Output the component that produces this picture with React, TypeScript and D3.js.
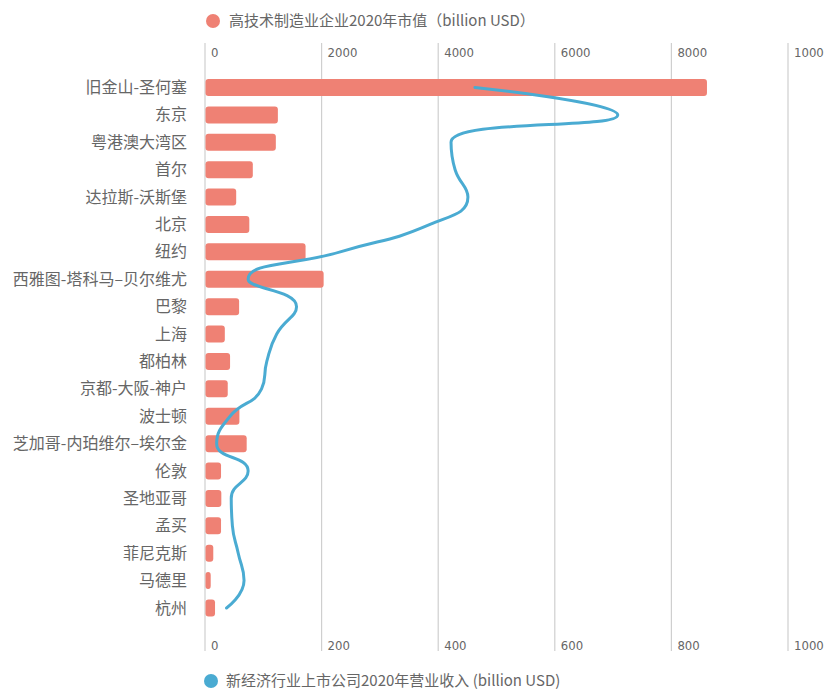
import React from "react";
import * as d3 from "d3";

const cities = [
  "旧金山-圣何塞", "东京", "粤港澳大湾区", "首尔", "达拉斯-沃斯堡", "北京", "纽约",
  "西雅图-塔科马–贝尔维尤", "巴黎", "上海", "都柏林", "京都-大阪-神户", "波士顿",
  "芝加哥-内珀维尔–埃尔金", "伦敦", "圣地亚哥", "孟买", "菲尼克斯", "马德里", "杭州",
];
// 高技术制造业企业2020年市值 (billion USD)
const marketValue = [
  8610, 1250, 1215, 820, 535, 760, 1725, 2035, 585, 340,
  430, 390, 590, 715, 275, 280, 275, 142, 98, 172,
];
// 新经济行业上市公司2020年营业收入 (billion USD)
const revenue = [
  463, 708, 422, 429, 451, 386, 232, 74, 157, 123,
  106, 97, 43, 20, 74, 45, 47, 57, 67, 37,
];
const topTicks = [0, 2000, 4000, 6000, 8000, 10000];
const bottomTicks = [0, 200, 400, 600, 800, 1000];
const legendTop = "高技术制造业企业2020年市值（billion USD）";
const legendBottom = "新经济行业上市公司2020年营业收入 (billion USD)";

const W = 824;
const H = 691;
const BAR_COLOR = "#ef8174";
const LINE_COLOR = "#4aabd2";
const GRID_COLOR = "#cfcfcf";
const TEXT_COLOR = "#666";
const CJK = "'Noto Sans CJK SC', 'Noto Sans', sans-serif";
const NUM = "'Liberation Sans Narrow', 'DejaVu Sans Condensed', 'Roboto', sans-serif";

// Smooth curve with per-point control points clamped to each segment's bounding box.
class ClampedSmooth {
  _ctx: any;
  _pts: [number, number][] = [];
  _smooth = 0.5;
  constructor(ctx: any) {
    this._ctx = ctx;
  }
  areaStart() {}
  areaEnd() {}
  lineStart() {
    this._pts = [];
  }
  point(x: number, y: number) {
    this._pts.push([+x, +y]);
  }
  lineEnd() {
    const p = this._pts;
    const s = this._smooth;
    const ctx = this._ctx;
    if (!p.length) return;
    ctx.moveTo(p[0][0], p[0][1]);
    let cpx0 = p[0][0];
    let cpy0 = p[0][1];
    for (let i = 1; i < p.length; i++) {
      const [prevX, prevY] = p[i - 1];
      const [x, y] = p[i];
      let cpx1: number, cpy1: number, nCpx0 = x, nCpy0 = y;
      if (i === p.length - 1) {
        cpx1 = x;
        cpy1 = y;
      } else {
        const [nextX, nextY] = p[i + 1];
        let vx = nextX - prevX;
        let vy = nextY - prevY;
        const lenPrev = Math.hypot(x - prevX, y - prevY);
        const lenNext = Math.hypot(nextX - x, nextY - y);
        const r = lenNext / (lenNext + lenPrev);
        nCpx0 = x + vx * s * r;
        nCpy0 = y + vy * s * r;
        nCpx0 = Math.min(nCpx0, Math.max(nextX, x));
        nCpy0 = Math.min(nCpy0, Math.max(nextY, y));
        nCpx0 = Math.max(nCpx0, Math.min(nextX, x));
        nCpy0 = Math.max(nCpy0, Math.min(nextY, y));
        vx = nCpx0 - x;
        vy = nCpy0 - y;
        cpx1 = x - (vx * lenPrev) / lenNext;
        cpy1 = y - (vy * lenPrev) / lenNext;
        cpx1 = Math.min(cpx1, Math.max(prevX, x));
        cpy1 = Math.min(cpy1, Math.max(prevY, y));
        cpx1 = Math.max(cpx1, Math.min(prevX, x));
        cpy1 = Math.max(cpy1, Math.min(prevY, y));
        vx = x - cpx1;
        vy = y - cpy1;
        nCpx0 = x + (vx * lenNext) / lenPrev;
        nCpy0 = y + (vy * lenNext) / lenPrev;
      }
      ctx.bezierCurveTo(cpx0, cpy0, cpx1, cpy1, x, y);
      cpx0 = nCpx0;
      cpy0 = nCpy0;
    }
  }
}

export default function App() {
  const xTop = d3.scaleLinear().domain([0, 10000]).range([205, 788]);
  const xBottom = d3.scaleLinear().domain([0, 1000]).range([205, 788]);
  const y = d3.scalePoint<string>().domain(cities).range([87.5, 608]);
  const barH = 17;
  const gridTop = 43;
  const gridBottom = 651;

  const line = d3
    .line<number>()
    .x((d) => xBottom(d))
    .y((_, i) => y(cities[i]) as number)
    .curve(((ctx: any) => new ClampedSmooth(ctx)) as any);

  return (
    <svg
      width={W}
      height={H}
      style={{ position: "absolute", left: 0, top: 0, background: "#fff" }}
    >
      {/* legend: market value */}
      <circle cx={213} cy={21} r={7} fill={BAR_COLOR} />
      <text x={229} y={21} dy="0.35em" fontFamily={CJK} fontSize={15} fill={TEXT_COLOR}>
        {legendTop}
      </text>

      {/* grid lines */}
      {topTicks.map((t) => (
        <line
          key={"g" + t}
          x1={xTop(t)}
          x2={xTop(t)}
          y1={gridTop}
          y2={gridBottom}
          stroke={GRID_COLOR}
          strokeWidth={1.2}
        />
      ))}

      {/* top axis labels */}
      {topTicks.map((t) => (
        <text
          key={"t" + t}
          x={xTop(t) + 6}
          y={57}
          fontFamily={NUM}
          fontSize={13}
          fill={TEXT_COLOR}
        >
          {t}
        </text>
      ))}

      {/* bottom axis labels */}
      {bottomTicks.map((t) => (
        <text
          key={"b" + t}
          x={xBottom(t) + 6}
          y={650}
          fontFamily={NUM}
          fontSize={13}
          fill={TEXT_COLOR}
        >
          {t}
        </text>
      ))}

      {/* category labels */}
      {cities.map((c) => (
        <text
          key={"c" + c}
          x={187}
          y={y(c)}
          dy="0.35em"
          textAnchor="end"
          fontFamily={CJK}
          fontSize={16}
          fill={TEXT_COLOR}
        >
          {c}
        </text>
      ))}

      {/* bars */}
      {cities.map((c, i) => (
        <rect
          key={"r" + c}
          x={xTop(0) + 0.5}
          y={(y(c) as number) - barH / 2}
          width={xTop(marketValue[i]) - xTop(0) - 0.5}
          height={barH}
          rx={3}
          fill={BAR_COLOR}
        />
      ))}

      {/* revenue line */}
      <path
        d={line(revenue) || ""}
        fill="none"
        stroke={LINE_COLOR}
        strokeWidth={3}
        strokeLinecap="round"
        strokeLinejoin="round"
      />

      {/* legend: revenue */}
      <circle cx={211} cy={681} r={7} fill={LINE_COLOR} />
      <text x={226} y={681} dy="0.35em" fontFamily={CJK} fontSize={15} fill={TEXT_COLOR}>
        {legendBottom}
      </text>
    </svg>
  );
}
